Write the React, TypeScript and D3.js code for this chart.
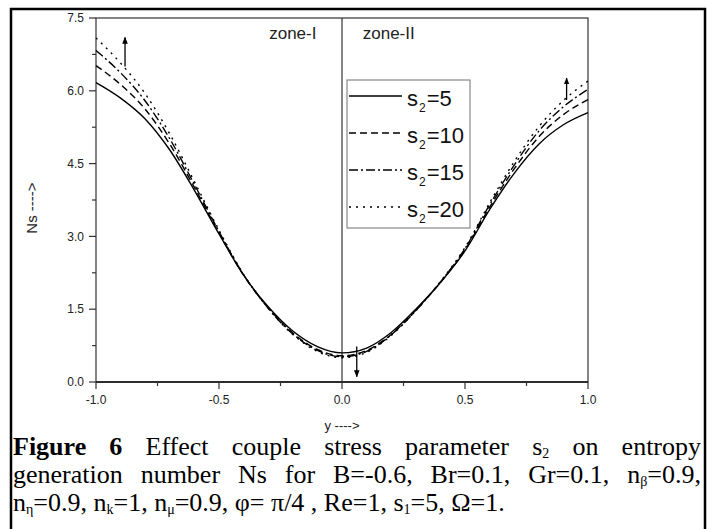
import React from 'react';
import * as d3 from 'd3';

const yPositions = [-1, -0.9, -0.8, -0.7, -0.6, -0.5, -0.4, -0.3, -0.2, -0.1, 0, 0.1, 0.2, 0.3, 0.4, 0.5, 0.6, 0.7, 0.8, 0.9, 1];
const nsS2_5 = [6.17, 5.85, 5.42, 4.78, 3.95, 3.05, 2.2, 1.55, 1.05, 0.73, 0.6, 0.7, 1.02, 1.5, 2.05, 2.7, 3.55, 4.3, 4.9, 5.3, 5.55];
const nsS2_10 = [6.52, 6.13, 5.62, 4.9, 4.01, 3.07, 2.2, 1.53, 1.01, 0.67, 0.54, 0.65, 0.98, 1.48, 2.05, 2.72, 3.6, 4.39, 5.05, 5.51, 5.82];
const nsS2_15 = [6.83, 6.37, 5.79, 5.01, 4.07, 3.1, 2.21, 1.52, 0.99, 0.65, 0.52, 0.63, 0.97, 1.47, 2.06, 2.75, 3.65, 4.47, 5.17, 5.67, 6.03];
const nsS2_20 = [7.09, 6.57, 5.94, 5.11, 4.13, 3.13, 2.22, 1.52, 0.98, 0.63, 0.5, 0.61, 0.96, 1.47, 2.07, 2.77, 3.69, 4.54, 5.26, 5.8, 6.2];
const seriesValues = [nsS2_5, nsS2_10, nsS2_15, nsS2_20];
const seriesNames = ['5', '10', '15', '20'];
const dashPatterns = ['none', '7,4', '9,3,2,3', '2,5'];
const xTicks = [-1, -0.5, 0, 0.5, 1];
const xMinorTicks = [-0.75, -0.25, 0.25, 0.75];
const yTicks = [0, 1.5, 3, 4.5, 6, 7.5];
const yMinorTicks = [0.75, 2.25, 3.75, 5.25, 6.75];
const arrowX = [-0.882, 0.913, 0.06];
const arrowFrom = [6.5, 5.81, 0.73];
const arrowTo = [7.1, 6.26, 0.11];

export default function App() {
  const x = d3.scaleLinear().domain([-1, 1]).range([96, 588]);
  const y = d3.scaleLinear().domain([0, 7.5]).range([382, 18]);
  const fmt = (v: number) => d3.format('.1f')(v).replace('\u2212', '-');
  const line = d3
    .line<number>()
    .x((_, i) => x(yPositions[i]))
    .y((d) => y(d))
    .curve(d3.curveMonotoneX);

  const axisColor = '#333';
  const sans = 'Arial, "Liberation Sans", sans-serif';
  const legendTop = 96;
  const legendStep = 37;
  const subStyle = { fontSize: '14px', lineHeight: 0, verticalAlign: '-0.2em' };
  const lineBase = {
    fontFamily: '"Times New Roman", "Liberation Serif", serif',
    fontSize: '26px',
    lineHeight: '28px',
    height: '28px',
    whiteSpace: 'nowrap' as const,
    color: '#000',
    margin: 0,
  };

  return (
    <svg width={714} height={529} style={{ position: 'absolute', left: 0, top: 0 }}>
      <defs>
        <marker id="ah" viewBox="0 0 10 10" refX="9" refY="5" markerWidth="7" markerHeight="7" markerUnits="userSpaceOnUse" orient="auto">
          <path d="M0,1 L10,5 L0,9 Z" fill="#000" />
        </marker>
      </defs>
      <rect x={0} y={0} width={714} height={529} fill="#fff" />
      {/* outer figure border */}
      <rect x={11} y={9} width={694} height={540} fill="none" stroke="#000" strokeWidth={2.5} />

      {/* plot frame */}
      <rect x={x(-1)} y={y(7.5)} width={x(1) - x(-1)} height={y(0) - y(7.5)} fill="none" stroke={axisColor} strokeWidth={1.2} />
      <line x1={x(-1)} x2={x(1)} y1={y(0)} y2={y(0)} stroke="#111" strokeWidth={1.6} />
      <line x1={x(0)} x2={x(0)} y1={y(7.5)} y2={y(0)} stroke={axisColor} strokeWidth={1.2} />

      {/* y ticks */}
      {yTicks.map((t) => (
        <g key={'yt' + t}>
          <line x1={x(-1) - 7} x2={x(-1)} y1={y(t)} y2={y(t)} stroke={axisColor} strokeWidth={1.2} />
          <text x={x(-1) - 12} y={y(t)} dy="0.35em" textAnchor="end" fontFamily={sans} fontSize={12} fill="#222">
            {fmt(t)}
          </text>
        </g>
      ))}
      {yMinorTicks.map((t) => (
        <line key={'ym' + t} x1={x(-1) - 4} x2={x(-1)} y1={y(t)} y2={y(t)} stroke={axisColor} strokeWidth={1.2} />
      ))}
      {/* x ticks */}
      {xTicks.map((t) => (
        <g key={'xt' + t}>
          <line x1={x(t)} x2={x(t)} y1={y(0)} y2={y(0) + 7} stroke={axisColor} strokeWidth={1.2} />
          <text x={x(t)} y={y(0) + 22} textAnchor="middle" fontFamily={sans} fontSize={12} fill="#222">
            {fmt(t)}
          </text>
        </g>
      ))}
      {xMinorTicks.map((t) => (
        <line key={'xm' + t} x1={x(t)} x2={x(t)} y1={y(0)} y2={y(0) + 4} stroke={axisColor} strokeWidth={1.2} />
      ))}

      {/* axis titles */}
      <text transform={`translate(37,${(y(0) + y(7.5)) / 2 + 8}) rotate(-90)`} textAnchor="middle" fontFamily={sans} fontSize={15} fill="#222">
        Ns ----&gt;
      </text>
      <text x={x(0)} y={430} textAnchor="middle" fontFamily={sans} fontSize={13} fill="#222">
        y ----&gt;
      </text>

      {/* zone labels */}
      <text x={x(-0.2)} y={39} textAnchor="middle" fontFamily={sans} fontSize={17} fill="#222">
        zone-I
      </text>
      <text x={x(0.19)} y={39} textAnchor="middle" fontFamily={sans} fontSize={17} fill="#222">
        zone-II
      </text>

      {/* curves */}
      {seriesValues.map((vals, i) => (
        <path key={'s' + i} d={line(vals) || ''} fill="none" stroke="#000" strokeWidth={1.4} strokeDasharray={dashPatterns[i]} />
      ))}

      {/* arrows */}
      {arrowX.map((ax, i) => (
        <line key={'a' + i} x1={x(ax)} x2={x(ax)} y1={y(arrowFrom[i])} y2={y(arrowTo[i])} stroke="#000" strokeWidth={1.3} markerEnd="url(#ah)" />
      ))}

      {/* legend */}
      <rect x={347} y={80} width={123} height={148} fill="#fff" stroke="#888" strokeWidth={1.2} />
      {seriesNames.map((n, i) => (
        <g key={'lg' + i}>
          <line x1={349} x2={402} y1={legendTop + i * legendStep} y2={legendTop + i * legendStep} stroke="#000" strokeWidth={1.4} strokeDasharray={dashPatterns[i]} />
          <text x={407} y={legendTop + i * legendStep + 10} fontFamily={sans} fontSize={22} fill="#111">
            s
            <tspan fontSize={12} dy={6} dx={1}>2</tspan>
            <tspan dy={-6} dx={1}>={n}</tspan>
          </text>
        </g>
      ))}

      {/* caption */}
      <foreignObject x={13} y={433} width={688} height={96}>
        <div style={{ ...lineBase, textAlign: 'justify', textAlignLast: 'justify' }}>
          <b>Figure 6</b> Effect couple stress parameter s<sub style={subStyle}>2</sub> on entropy
        </div>
        <div style={{ ...lineBase, textAlign: 'justify', textAlignLast: 'justify' }}>
          generation number Ns for B=-0.6, Br=0.1, Gr=0.1, n<sub style={subStyle}>β</sub>=0.9,
        </div>
        <div style={{ ...lineBase, textAlign: 'left' }}>
          n<sub style={subStyle}>η</sub>=0.9, n<sub style={subStyle}>k</sub>=1, n<sub style={subStyle}>μ</sub>=0.9, φ=&nbsp;π/4 , Re=1, s<sub style={subStyle}>1</sub>=5, Ω=1.
        </div>
      </foreignObject>
    </svg>
  );
}
